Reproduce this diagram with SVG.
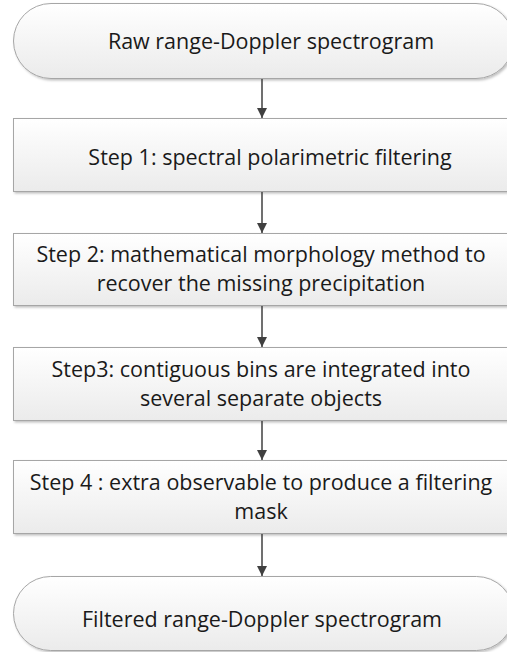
<svg xmlns="http://www.w3.org/2000/svg" width="507" height="652" viewBox="0 0 507 652">
<defs>
<linearGradient id="g" x1="0" y1="0" x2="0" y2="1">
<stop offset="0" stop-color="#ffffff"/>
<stop offset="1" stop-color="#ebebeb"/>
</linearGradient>
<marker id="ah" viewBox="0 0 10 10" refX="10" refY="5" markerWidth="10" markerHeight="10" markerUnits="userSpaceOnUse" orient="auto">
<path d="M0,0 L10,5 L0,10 z" fill="#404040"/>
</marker>
<filter id="sh" x="-5%" y="-5%" width="110%" height="120%">
<feDropShadow dx="1.5" dy="1.5" stdDeviation="1" flood-color="#000" flood-opacity="0.25"/>
</filter>
</defs>
<style>
.n{fill:url(#g);stroke:#a6a6a6;stroke-width:1;filter:url(#sh)}
.t{font-family:"Open Sans","Liberation Sans",sans-serif;font-size:21.5px;fill:#1a1a1a;text-anchor:middle}
.c{stroke:#404040;stroke-width:1.5;fill:none;marker-end:url(#ah)}
</style>
<rect width="507" height="652" fill="#fff"/>
<g id="start">
<rect class="n" x="13.5" y="3.5" width="500" height="75" rx="37.5" ry="37.5"/>
<text class="t" x="271" y="49">Raw range-Doppler spectrogram</text>
</g>
<g id="step1">
<rect class="n" x="13.5" y="118.5" width="500" height="73"/>
<text class="t" x="270" y="165">Step 1: spectral polarimetric filtering</text>
</g>
<g id="step2">
<rect class="n" x="13.5" y="233.5" width="500" height="72"/>
<text class="t" x="261" y="262">Step 2: mathematical morphology method to</text>
<text class="t" x="261" y="291">recover the missing precipitation</text>
</g>
<g id="step3">
<rect class="n" x="13.5" y="347.5" width="500" height="73"/>
<text class="t" x="261" y="377">Step3: contiguous bins are integrated into</text>
<text class="t" x="261" y="406">several separate objects</text>
</g>
<g id="step4">
<rect class="n" x="13.5" y="460.5" width="500" height="73"/>
<text class="t" x="261" y="490">Step 4 : extra observable to produce a filtering</text>
<text class="t" x="261" y="519">mask</text>
</g>
<g id="end">
<rect class="n" x="13.5" y="576.5" width="500" height="74" rx="37" ry="37"/>
<text class="t" x="262" y="627">Filtered range-Doppler spectrogram</text>
</g>
<g id="connectors">
<line class="c" x1="262" y1="79" x2="262" y2="118"/>
<line class="c" x1="262" y1="192" x2="262" y2="233"/>
<line class="c" x1="262" y1="306" x2="262" y2="347"/>
<line class="c" x1="262" y1="421" x2="262" y2="460"/>
<line class="c" x1="262" y1="534" x2="262" y2="576"/>
</g>
</svg>
